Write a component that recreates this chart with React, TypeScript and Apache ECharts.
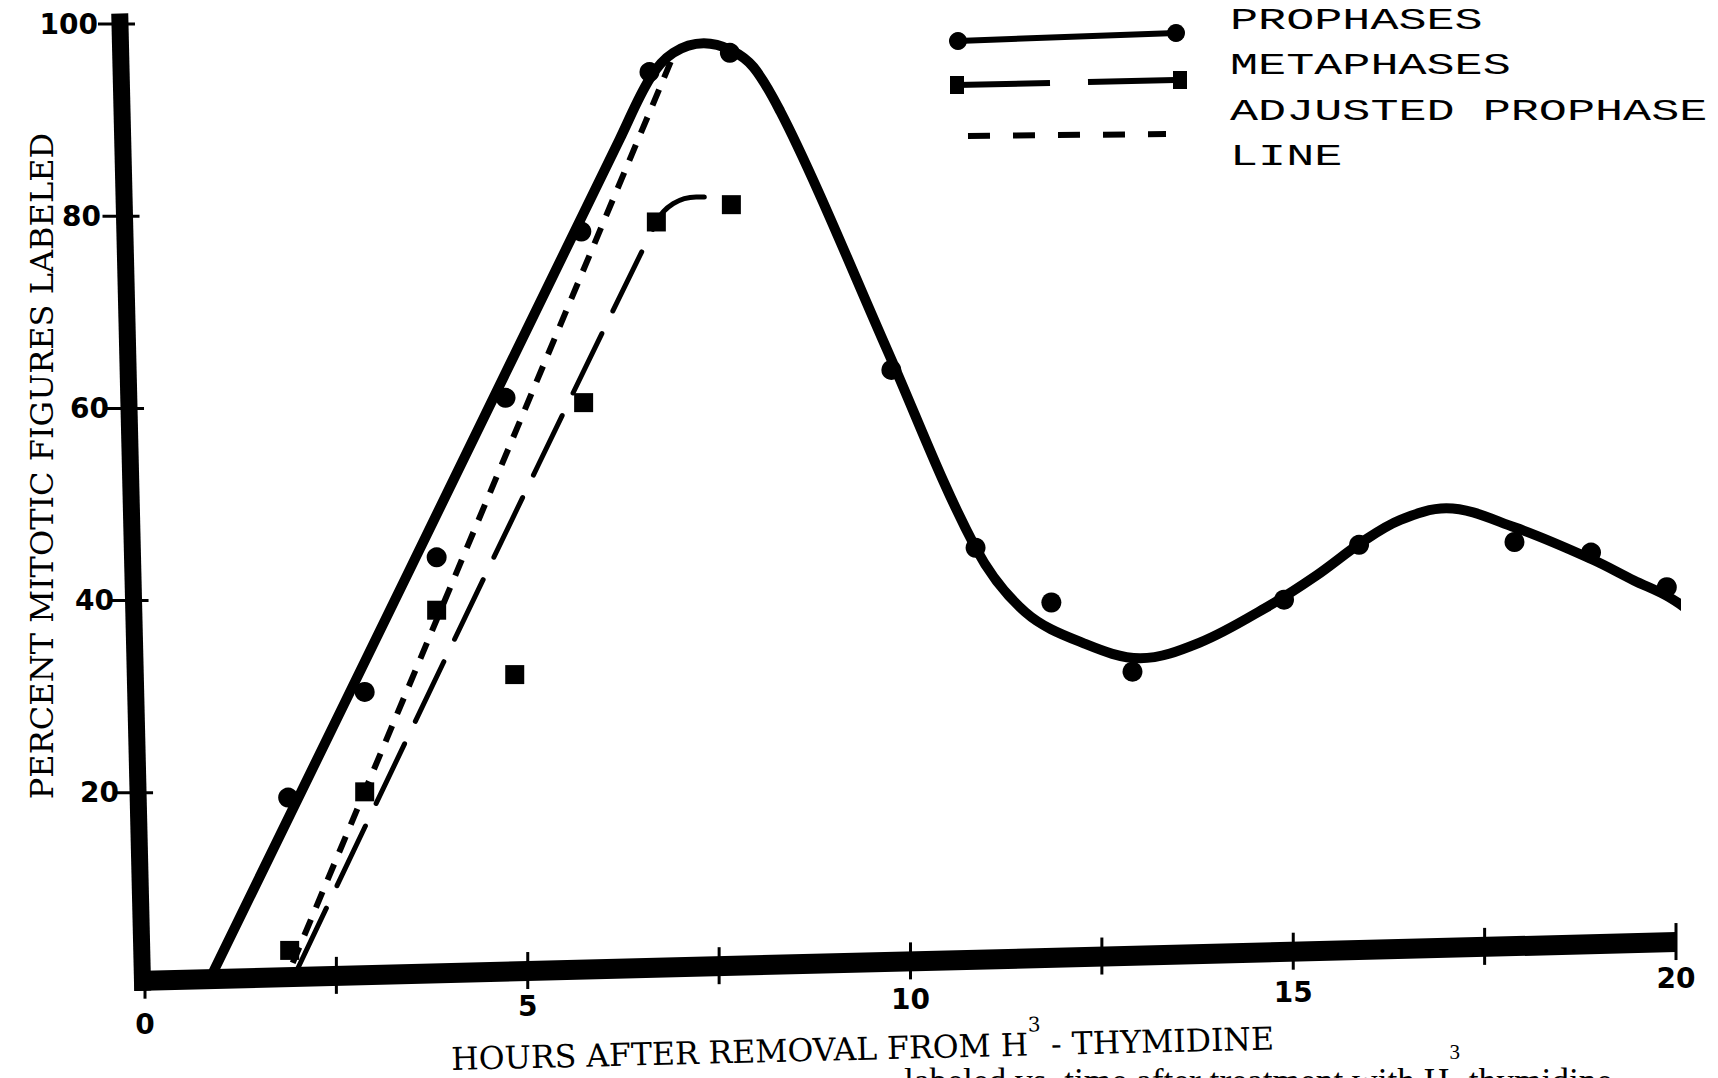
import React, { useEffect, useRef } from "react";
import * as echarts from "echarts";

// ---- data ----
const prophaseHours = [1.87, 2.87, 3.81, 4.71, 5.7, 6.59, 7.64, 9.75, 10.85, 11.84, 12.9, 14.88, 15.86, 17.89, 18.89, 19.88];
const prophasePct = [19.5, 30.5, 44.5, 61.1, 78.4, 95.0, 97.0, 64.0, 45.5, 39.8, 32.6, 40.1, 45.8, 46.1, 45.0, 41.4];

const metaphaseHours = [1.89, 2.87, 3.81, 4.83, 5.73, 6.68, 7.66];
const metaphasePct = [3.6, 20.1, 39.0, 32.3, 60.6, 79.4, 81.2];

// fitted (hand-drawn) curves
const prophaseCurveHours = [0.9, 3.5, 6.2, 6.6, 6.9, 7.3, 7.65, 7.95, 8.3, 8.8, 9.7, 10.85, 11.5, 12.25, 13.0, 13.77, 14.65, 15.3, 15.9, 16.4, 17.0, 17.9, 18.9, 19.45, 19.9, 20.3];
const prophaseCurvePct = [1.5, 43.9, 88.0, 94.4, 97.0, 98.0, 97.3, 95.5, 90.9, 82.5, 66.0, 45.5, 38.8, 35.6, 34.0, 35.6, 39.3, 42.6, 46.1, 48.4, 49.6, 47.6, 44.3, 42.1, 40.4, 38.2];

const metaphaseCurveHours = [2.0, 6.68, 6.9, 7.2, 7.5, 7.66];
const metaphaseCurvePct = [1.8, 79.4, 81.3, 82.0, 81.8, 81.2];

const adjustedHours = [1.93, 6.88];
const adjustedPct = [2.3, 96.3];

const xTickLabels = [0, 5, 10, 15, 20];
const yTickLabels = [20, 40, 60, 80, 100];
const xMinorTicks = [0, 2.5, 5, 7.5, 10, 12.5, 15, 17.5, 20];

const legendNames = ["PROPHASES", "METAPHASES", "ADJUSTED PROPHASE", "LINE"];

const pairs = (xs: number[], ys: number[]) => xs.map((x, i) => [x, ys[i]]);

export default function App() {
  const ref = useRef<HTMLDivElement>(null);

  useEffect(() => {
    const el = ref.current!;
    const chart = echarts.init(el, null, { renderer: "svg" });
    const sans = "DejaVu Sans";
    const serif = "DejaVu Serif";
    const mono = "Liberation Mono";

    const xPad: Record<number, number> = { 0: 46, 5: 28, 10: 21, 15: 14, 20: 0 };
    const yPad: Record<number, number> = { 20: 0, 40: 5, 60: 10, 80: 18, 100: 21 };
    const xRich: any = {};
    xTickLabels.forEach((v) => {
      xRich["x" + v] = { fontFamily: sans, fontWeight: "bold", fontSize: 28, color: "#000", padding: [xPad[v], 0, 0, 0] };
    });
    const yRich: any = {};
    yTickLabels.forEach((v) => {
      yRich["y" + v] = { fontFamily: sans, fontWeight: "bold", fontSize: 28, color: "#000", padding: [0, yPad[v], 0, 0] };
    });

    const option: any = {
      animation: false,
      backgroundColor: "#fff",
      grid: { left: 145, right: 42, top: 24, bottom: 93, containLabel: false },
      xAxis: {
        type: "value",
        min: 0,
        max: 20,
        interval: 2.5,
        axisLine: { show: false },
        axisTick: { show: false },
        splitLine: { show: false },
        axisLabel: {
          margin: -21,
          formatter: (v: number) => (xTickLabels.includes(v) ? `{x${v}|${v}}` : ""),
          rich: xRich,
        },
      },
      yAxis: {
        type: "value",
        min: 0,
        max: 100,
        interval: 20,
        axisLine: { show: false },
        axisTick: { show: false },
        splitLine: { show: false },
        axisLabel: {
          margin: 26,
          formatter: (v: number) => (yTickLabels.includes(v) ? `{y${v}|${v}}` : ""),
          rich: yRich,
        },
      },
      series: [
        {
          type: "line",
          name: "PROPHASES",
          data: pairs(prophaseCurveHours, prophaseCurvePct),
          smooth: 0.35,
          symbol: "none",
          showSymbol: false,
          clip: false,
          silent: true,
          lineStyle: { color: "#000", width: 10, cap: "round", join: "round", opacity: 1 },
          z: 3,
        },
        {
          type: "scatter",
          name: "PROPHASES",
          data: pairs(prophaseHours, prophasePct),
          symbol: "circle",
          symbolSize: 20,
          silent: true,
          itemStyle: { color: "#000", opacity: 1 },
          z: 4,
        },
        {
          type: "line",
          name: "METAPHASES",
          data: pairs(metaphaseCurveHours, metaphaseCurvePct),
          smooth: 0.4,
          symbol: "none",
          showSymbol: false,
          silent: true,
          lineStyle: { color: "#000", width: 5, type: [66, 25], cap: "round", opacity: 1 },
          z: 3,
        },
        {
          type: "scatter",
          name: "METAPHASES",
          data: pairs(metaphaseHours, metaphasePct),
          symbol: "rect",
          symbolSize: 19,
          silent: true,
          itemStyle: { color: "#000", opacity: 1 },
          z: 4,
        },
        {
          type: "line",
          name: "ADJUSTED PROPHASE LINE",
          data: pairs(adjustedHours, adjustedPct),
          symbol: "none",
          showSymbol: false,
          silent: true,
          lineStyle: { color: "#000", width: 6, type: [17, 13], opacity: 1 },
          z: 3,
        },
      ],
    };
    chart.setOption(option);

    const px = (x: number, y: number) => chart.convertToPixel({ gridIndex: 0 }, [x, y]) as number[];
    const yTop = px(-0.33, 101.1);
    const yBot = px(-0.03, -0.6);
    const xL = px(-0.14, 0.42);
    const xR = px(20, 4.47);
    const barY = (X: number) => xL[1] + ((xR[1] - xL[1]) * (X - xL[0])) / (xR[0] - xL[0]);
    const barX = (Y: number) => yTop[0] + ((yBot[0] - yTop[0]) * (Y - yTop[1])) / (yBot[1] - yTop[1]);

    const g: any[] = [];
    // skewed axis bars
    g.push({ type: "line", z: 50, silent: true, shape: { x1: yTop[0], y1: yTop[1], x2: yBot[0], y2: yBot[1] }, style: { stroke: "#000", lineWidth: 17 } });
    g.push({ type: "line", z: 50, silent: true, shape: { x1: xL[0], y1: xL[1], x2: xR[0], y2: xR[1] }, style: { stroke: "#000", lineWidth: 20 } });
    // x ticks
    xMinorTicks.forEach((t) => {
      const p = px(t, 0)[0];
      const c = barY(p);
      const top = t === 0 ? c + 8 : c - 19;
      g.push({ type: "line", z: 51, silent: true, shape: { x1: p, y1: top, x2: p, y2: c + 18 }, style: { stroke: "#000", lineWidth: 3 } });
    });
    // y ticks
    yTickLabels.forEach((t) => {
      const p = px(0, t)[1];
      const c = barX(p);
      g.push({ type: "line", z: 51, silent: true, shape: { x1: c - 22, y1: p, x2: c + 15, y2: p }, style: { stroke: "#000", lineWidth: 3 } });
    });

    // axis titles
    g.push({
      type: "text",
      x: 42,
      y: 466,
      rotation: Math.PI / 2,
      silent: true,
      style: { text: "PERCENT MITOTIC FIGURES LABELED", fontFamily: serif, fontSize: 32, fill: "#000", align: "center", verticalAlign: "middle" },
    });
    g.push({
      type: "text",
      x: 451,
      y: 1052,
      rotation: 0.025,
      silent: true,
      style: {
        text: "{a|HOURS AFTER REMOVAL FROM H}{s|3}{a| - THYMIDINE}",
        align: "left",
        verticalAlign: "middle",
        rich: {
          a: { fontFamily: serif, fontSize: 31.5, fill: "#000", padding: [14, 0, 0, 0] },
          s: { fontFamily: serif, fontSize: 20, fill: "#000", verticalAlign: "top" },
        },
      },
    });
    // caption line, cut off by the bottom edge as in the reference
    g.push({
      type: "text",
      x: 904,
      y: 1041,
      silent: true,
      style: {
        text: "{c|labeled vs. time after treatment with H}{s|3}{c| thymidine}",
        align: "left",
        verticalAlign: "top",
        rich: {
          c: { fontFamily: "Liberation Serif", fontSize: 35.4, fill: "#000", padding: [22, 0, 0, 0] },
          s: { fontFamily: "Liberation Serif", fontSize: 21, fill: "#000", verticalAlign: "top" },
        },
      },
    });

    // legend
    g.push({ type: "line", silent: true, shape: { x1: 958, y1: 41, x2: 1176, y2: 33 }, style: { stroke: "#000", lineWidth: 6 } });
    g.push({ type: "circle", silent: true, shape: { cx: 958, cy: 41, r: 9 }, style: { fill: "#000" } });
    g.push({ type: "circle", silent: true, shape: { cx: 1176, cy: 33, r: 9 }, style: { fill: "#000" } });
    g.push({ type: "line", silent: true, shape: { x1: 957, y1: 85, x2: 1050, y2: 83 }, style: { stroke: "#000", lineWidth: 6 } });
    g.push({ type: "line", silent: true, shape: { x1: 1088, y1: 82, x2: 1175, y2: 80 }, style: { stroke: "#000", lineWidth: 6 } });
    g.push({ type: "rect", silent: true, shape: { x: 950, y: 76, width: 14, height: 18 }, style: { fill: "#000" } });
    g.push({ type: "rect", silent: true, shape: { x: 1173, y: 71, width: 14, height: 18 }, style: { fill: "#000" } });
    g.push({ type: "line", silent: true, shape: { x1: 968, y1: 136, x2: 1166, y2: 134 }, style: { stroke: "#000", lineWidth: 6, lineDash: [22, 23] } });

    const legendY = [21, 66, 112, 157];
    legendNames.forEach((name, i) => {
      g.push({
        type: "text",
        x: 1230,
        y: legendY[i],
        scaleX: 1.56,
        silent: true,
        style: { text: name, fontFamily: mono, fontSize: 30, fill: "#000", align: "left", verticalAlign: "middle" },
      });
    });

    chart.setOption({ graphic: g });

    return () => chart.dispose();
  }, []);

  return <div ref={ref} style={{ position: "absolute", left: 0, top: 0, width: 1718, height: 1078, background: "#fff" }} />;
}
